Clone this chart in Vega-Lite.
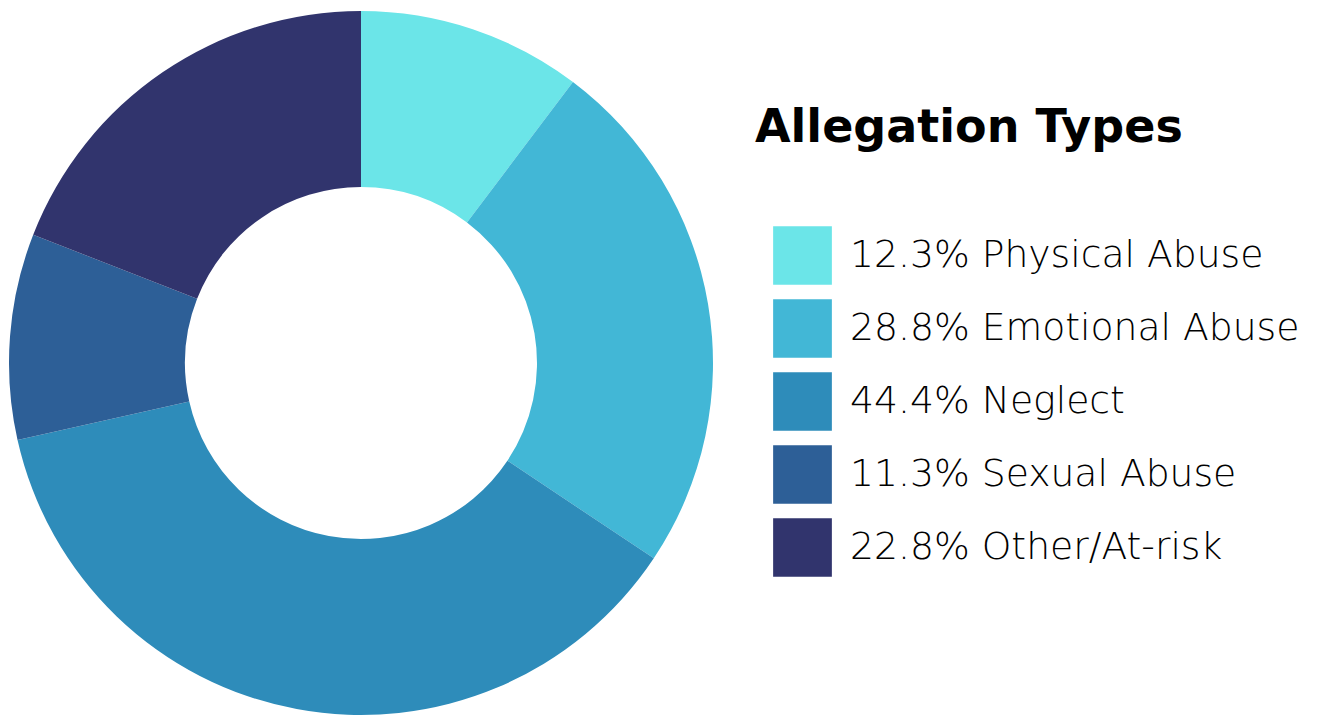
{
  "$schema": "https://vega.github.io/schema/vega-lite/v6.json",
  "width": 722,
  "height": 726,
  "padding": 0,
  "autosize": {"type": "pad"},
  "background": "white",
  "data": {
    "values": [
      {"idx": 1, "label": "12.3% Physical Abuse", "value": 12.3},
      {"idx": 2, "label": "28.8% Emotional Abuse", "value": 28.8},
      {"idx": 3, "label": "44.4% Neglect", "value": 44.4},
      {"idx": 4, "label": "11.3% Sexual Abuse", "value": 11.3},
      {"idx": 5, "label": "22.8% Other/At-risk", "value": 22.8}
    ]
  },
  "mark": {"type": "arc", "outerRadius": 352, "innerRadius": 176},
  "encoding": {
    "theta": {"field": "value", "type": "quantitative", "stack": true},
    "order": {"field": "idx", "type": "quantitative"},
    "color": {
      "field": "label",
      "type": "nominal",
      "sort": ["12.3% Physical Abuse", "28.8% Emotional Abuse", "44.4% Neglect", "11.3% Sexual Abuse", "22.8% Other/At-risk"],
      "scale": {
        "domain": ["12.3% Physical Abuse", "28.8% Emotional Abuse", "44.4% Neglect", "11.3% Sexual Abuse", "22.8% Other/At-risk"],
        "range": ["#6be5e8", "#42b7d6", "#2e8cba", "#2d5f97", "#31346d"]
      },
      "legend": {
        "title": "Allegation Types",
        "orient": "none",
        "legendX": 755,
        "legendY": 106,
        "titleFont": "DejaVu Sans",
        "titleFontSize": 46,
        "titleFontWeight": "bold",
        "titleColor": "#000000",
        "titleLimit": 800,
        "titlePadding": 74,
        "symbolType": "square",
        "symbolSize": 3450,
        "symbolOffset": 18,
        "symbolStrokeWidth": 0,
        "symbolOpacity": 1,
        "labelFont": "DejaVu Sans",
        "labelFontSize": 37.7,
        "labelFontWeight": 200,
        "labelColor": "#000000",
        "labelOffset": 18,
        "labelLimit": 600,
        "rowPadding": 14,
        "padding": 0,
        "offset": 0
      }
    }
  },
  "config": {"view": {"stroke": null}}
}
